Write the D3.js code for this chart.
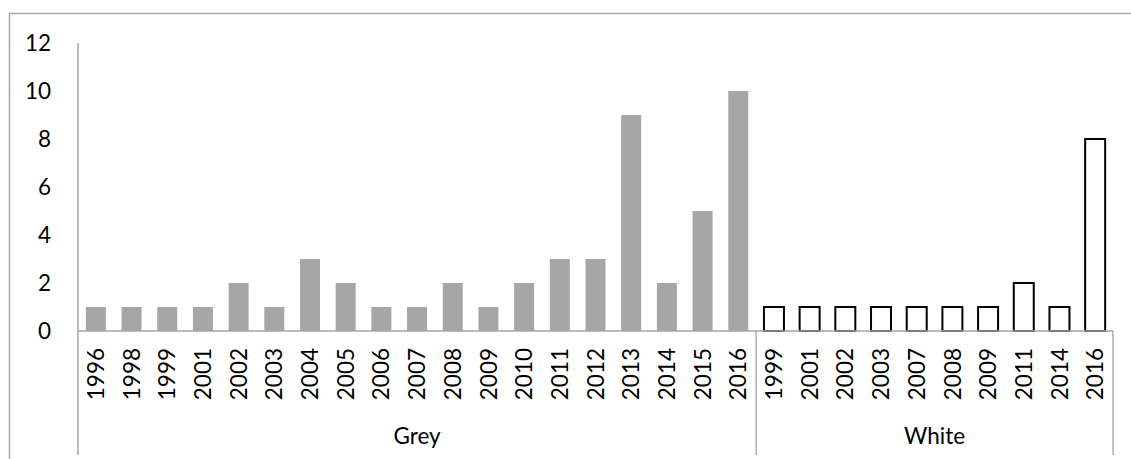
<!DOCTYPE html>
<html>
<head>
<meta charset="utf-8">
<script src="https://cdn.jsdelivr.net/npm/d3@7"></script>
<style>
  html, body { margin: 0; padding: 0; background: #fff; }
  svg { display: block; }
  text { font-family: Lato, "Open Sans", sans-serif; fill: #000; }
</style>
</head>
<body>
<svg id="chart" width="1131" height="459"></svg>
<script>
// Counts per year, split by colour group
const greyYears  = ["1996","1998","1999","2001","2002","2003","2004","2005","2006","2007","2008","2009","2010","2011","2012","2013","2014","2015","2016"];
const greyValues = [1,1,1,1,2,1,3,2,1,1,2,1,2,3,3,9,2,5,10];
const whiteYears  = ["1999","2001","2002","2003","2007","2008","2009","2011","2014","2016"];
const whiteValues = [1,1,1,1,1,1,1,2,1,8];
const groupNames = ["Grey","White"];
const yTicks = [0,2,4,6,8,10,12];

const rows = [
  ...greyYears.map((y, i) => ({ group: "Grey", year: y, value: greyValues[i] })),
  ...whiteYears.map((y, i) => ({ group: "White", year: y, value: whiteValues[i] }))
];
rows.forEach((d, i) => d.key = i);

const svg = d3.select("#chart");
const plotLeft = 78, plotRight = 1113, plotTop = 43, base = 331, bottomLine = 455;
const fontSize = 22.5;

const x = d3.scaleBand()
  .domain(rows.map(d => d.key))
  .range([plotLeft, plotRight])
  .paddingInner(0.44)
  .paddingOuter(0.22);
const step = x.step();

const y = d3.scaleLinear().domain([0, 12]).range([base, plotTop]);

// outer frame
svg.append("path")
  .attr("d", `M9.5,${bottomLine + 10} V13.5 H1140`)
  .attr("fill", "none")
  .attr("stroke", "#a6a6a6")
  .attr("stroke-width", 1.5);

// value axis labels
svg.append("g").selectAll("text")
  .data(yTicks)
  .join("text")
  .attr("x", 51)
  .attr("y", d => y(d))
  .attr("dy", "0.35em")
  .attr("text-anchor", "end")
  .attr("font-size", fontSize)
  .text(d => d);

// bars
svg.append("g").selectAll("rect")
  .data(rows)
  .join("rect")
  .attr("x", d => x(d.key))
  .attr("width", x.bandwidth())
  .attr("y", d => y(d.value))
  .attr("height", d => y(0) - y(d.value))
  .attr("fill", d => d.group === "Grey" ? "#a6a6a6" : "#ffffff")
  .attr("stroke", d => d.group === "Grey" ? "none" : "#000")
  .attr("stroke-width", 2);

// axis lines
const lineCol = "#a6a6a6";
svg.append("line")
  .attr("x1", plotLeft).attr("x2", plotRight)
  .attr("y1", base).attr("y2", base)
  .attr("stroke", lineCol).attr("stroke-width", 1.5);
svg.append("line")
  .attr("x1", plotLeft).attr("x2", plotLeft)
  .attr("y1", plotTop).attr("y2", bottomLine)
  .attr("stroke", lineCol).attr("stroke-width", 1.5);

// group separators and right edge
const groupStarts = groupNames.map(g => rows.find(d => d.group === g).key);
const groupEnds = groupNames.map(g => rows.filter(d => d.group === g).slice(-1)[0].key);
groupEnds.forEach(k => {
  const xe = x(k) - x.paddingInner() * step / 2 + step;
  svg.append("line")
    .attr("x1", xe).attr("x2", xe)
    .attr("y1", base).attr("y2", bottomLine)
    .attr("stroke", "#999").attr("stroke-width", 1.2);
});

// year labels, rotated
svg.append("g").selectAll("text")
  .data(rows)
  .join("text")
  .attr("transform", d => `translate(${x(d.key) + x.bandwidth() / 2},${base + 17}) rotate(-90)`)
  .attr("text-anchor", "end")
  .attr("dy", "0.36em")
  .attr("font-size", fontSize)
  .text(d => d.year);

// group labels
svg.append("g").selectAll("text")
  .data(groupNames)
  .join("text")
  .attr("x", (g, i) => {
    const a = x(groupStarts[i]) - x.paddingInner() * step / 2;
    const b = x(groupEnds[i]) - x.paddingInner() * step / 2 + step;
    return (a + b) / 2;
  })
  .attr("y", 444)
  .attr("text-anchor", "middle")
  .attr("font-size", fontSize)
  .text(g => g);
</script>
</body>
</html>
